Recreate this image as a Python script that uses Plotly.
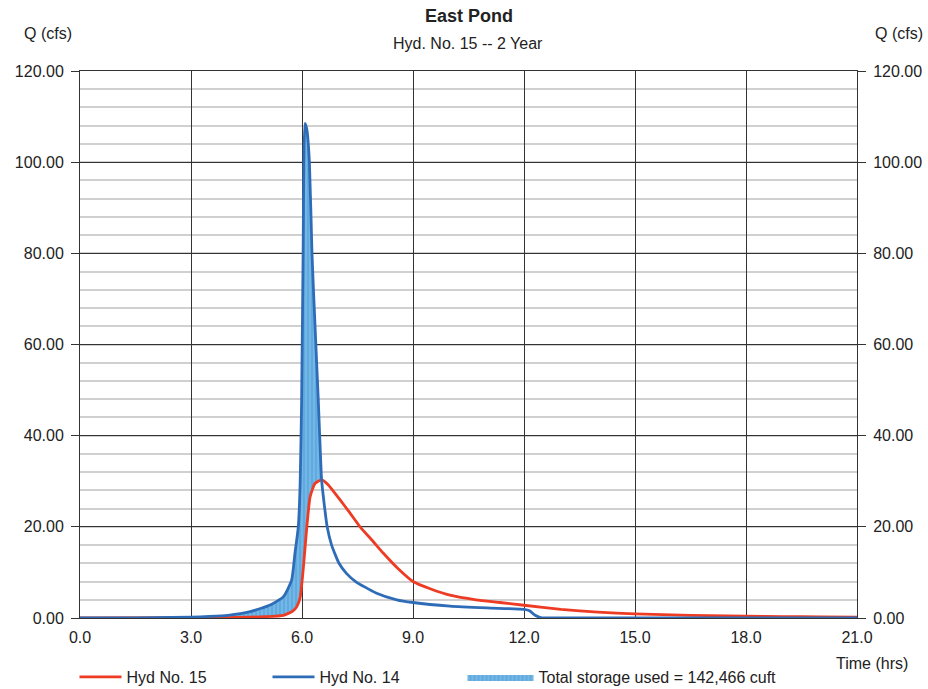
import plotly.graph_objects as go

# Hyd No. 14 (inflow, blue)
t14 = [0.0, 1.0, 2.0, 3.0, 3.5, 4.0, 4.6, 5.14, 5.5, 5.72, 5.81, 5.9, 5.95, 5.99, 6.03, 6.08, 6.13,
       6.2, 6.27, 6.32, 6.44, 6.53, 6.6, 6.68, 6.8, 7.0, 7.2, 7.45, 8.0, 8.56, 9.0, 10.0, 11.0,
       12.0, 12.15, 12.3, 12.45, 13.0, 21.0]
q14 = [0.0, 0.02, 0.06, 0.2, 0.35, 0.6, 1.4, 2.85, 4.7, 8.3, 14.2, 20.0, 29.5, 47.8, 80.0, 108.5, 107.2,
       100.0, 80.0, 70.0, 47.8, 30.3, 25.0, 20.0, 16.0, 12.0, 9.8, 8.0, 5.5, 4.0, 3.4, 2.6, 2.2,
       1.9, 1.6, 0.6, 0.1, 0.0, 0.0]

# Hyd No. 15 (outflow, red)
t15 = [0.0, 3.0, 4.0, 5.0, 5.5, 5.75, 5.86, 5.95, 6.04, 6.13, 6.22, 6.35, 6.53, 6.7, 7.03, 7.3,
       7.57, 7.9, 8.2, 8.6, 9.0, 9.5, 10.0, 10.7, 11.35, 12.0, 13.0, 14.0, 15.0, 16.0, 17.0,
       18.0, 19.0, 20.0, 21.0]
q15 = [0.0, 0.05, 0.1, 0.3, 0.6, 1.5, 2.5, 4.5, 11.3, 20.0, 26.6, 29.5, 30.3, 29.3, 25.9, 23.0,
       20.0, 17.0, 14.2, 10.8, 8.0, 6.3, 5.0, 4.0, 3.4, 2.8, 1.9, 1.3, 0.9, 0.7, 0.5,
       0.4, 0.3, 0.25, 0.2]

# crossing time of the two hydrographs (end of storage)
t_cross = 6.53

x_ticks = [0, 3, 6, 9, 12, 15, 18, 21]
y_ticks = [0, 20, 40, 60, 80, 100, 120]

RED = "#ee3b24"
BLUE = "#2f6cb8"
FONT = "Liberation Sans, Arial, Helvetica, sans-serif"
TXT = "#222222"

W, H = 928, 689
L, R, T, B = 80, 71, 71, 71
pw, ph = W - L - R, H - T - B

def px2paper(px, py):
    return (px - L) / pw, (H - B - py) / ph

# storage region subsets (up to crossing)
s15 = [(t, q) for t, q in zip(t15, q15) if t <= t_cross]
s14 = [(t, q) for t, q in zip(t14, q14) if t <= t_cross]

fig = go.Figure()
fig.add_trace(go.Scatter(x=[p[0] for p in s15], y=[p[1] for p in s15], mode="lines",
                         line=dict(width=0, shape="spline", smoothing=0.5),
                         showlegend=False, hoverinfo="skip"))
fig.add_trace(go.Scatter(x=[p[0] for p in s14], y=[p[1] for p in s14], mode="lines",
                         line=dict(width=0, color=BLUE, shape="spline", smoothing=0.5),
                         fill="tonexty", fillcolor="#5fabdf",
                         fillpattern=dict(shape="|", bgcolor="#5fabdf", fgcolor="#a4d2f2",
                                          size=4, solidity=0.3),
                         name="Total storage used = 142,466 cuft", legend="legend3"))
fig.add_trace(go.Scatter(x=t15, y=q15, mode="lines",
                         line=dict(color=RED, width=2.8, shape="spline", smoothing=0.5),
                         name="Hyd No. 15", legend="legend"))
fig.add_trace(go.Scatter(x=t14, y=q14, mode="lines",
                         line=dict(color=BLUE, width=2.8, shape="spline", smoothing=0.5),
                         name="Hyd No. 14", legend="legend2"))
# invisible trace to show right axis
fig.add_trace(go.Scatter(x=[0, 21], y=[0, 120], yaxis="y2", mode="markers",
                         marker=dict(opacity=0), showlegend=False, hoverinfo="skip"))

axis_font = dict(family=FONT, size=16, color=TXT)
leg_y = px2paper(0, 660)[1]

def leg(px_left, iw):
    return dict(orientation="h", x=px2paper(px_left, 0)[0], y=leg_y, xanchor="left",
                yanchor="top", font=dict(family=FONT, size=16, color=TXT), itemwidth=iw,
                bgcolor="rgba(0,0,0,0)")

fig.update_layout(
    width=W, height=H,
    margin=dict(l=L, r=R, t=T, b=B, autoexpand=False),
    paper_bgcolor="white", plot_bgcolor="white",
    font=dict(family=FONT, size=16, color=TXT),
    showlegend=True,
    legend=leg(74.5, 42),
    legend2=leg(267.5, 42),
    legend3=leg(462.5, 66),
    xaxis=dict(range=[0, 21], tickvals=x_ticks, ticktext=[f"{v:.1f}" for v in x_ticks],
               showgrid=True, gridcolor="#333333", gridwidth=1, zeroline=False,
               showline=True, linecolor="#333333", mirror=True, ticks="", tickfont=axis_font,
               ticklabelstandoff=5, automargin=False),
    yaxis=dict(range=[0, 120], tickvals=y_ticks, ticktext=[f"{v:.2f}" for v in y_ticks],
               showgrid=True, gridcolor="#333333", gridwidth=1, zeroline=False,
               showline=True, linecolor="#333333", mirror=True, ticks="outside", ticklen=8,
               tickcolor="#333333", tickfont=axis_font, automargin=False, ticklabelstandoff=4,
               minor=dict(dtick=4, showgrid=True, gridcolor="#d0d0d0", gridwidth=1.8)),
    yaxis2=dict(range=[0, 120], tickvals=y_ticks, ticktext=[f"{v:.2f}" for v in y_ticks],
                overlaying="y", side="right", showgrid=False, zeroline=False,
                ticks="outside", ticklen=8, tickcolor="#333333", tickfont=axis_font,
                ticklabelstandoff=4, automargin=False),
)

labels = [
    ("<b>East Pond</b>", 469, 16, 18),
    ("Hyd. No. 15 -- 2 Year", 468, 44, 16),
    ("Q (cfs)", 48, 34, 16),
    ("Q (cfs)", 899, 34, 16),
    ("Time (hrs)", 872, 663, 16),
]
for text, px, py, size in labels:
    x, y = px2paper(px, py)
    fig.add_annotation(text=text, x=x, y=y, xref="paper", yref="paper", showarrow=False,
                       xanchor="center", yanchor="middle", font=dict(family=FONT, size=size, color=TXT))

fig.write_html("out.html", config={"displayModeBar": False},
               post_script="document.body.style.margin='0';document.body.style.overflow='hidden';")
